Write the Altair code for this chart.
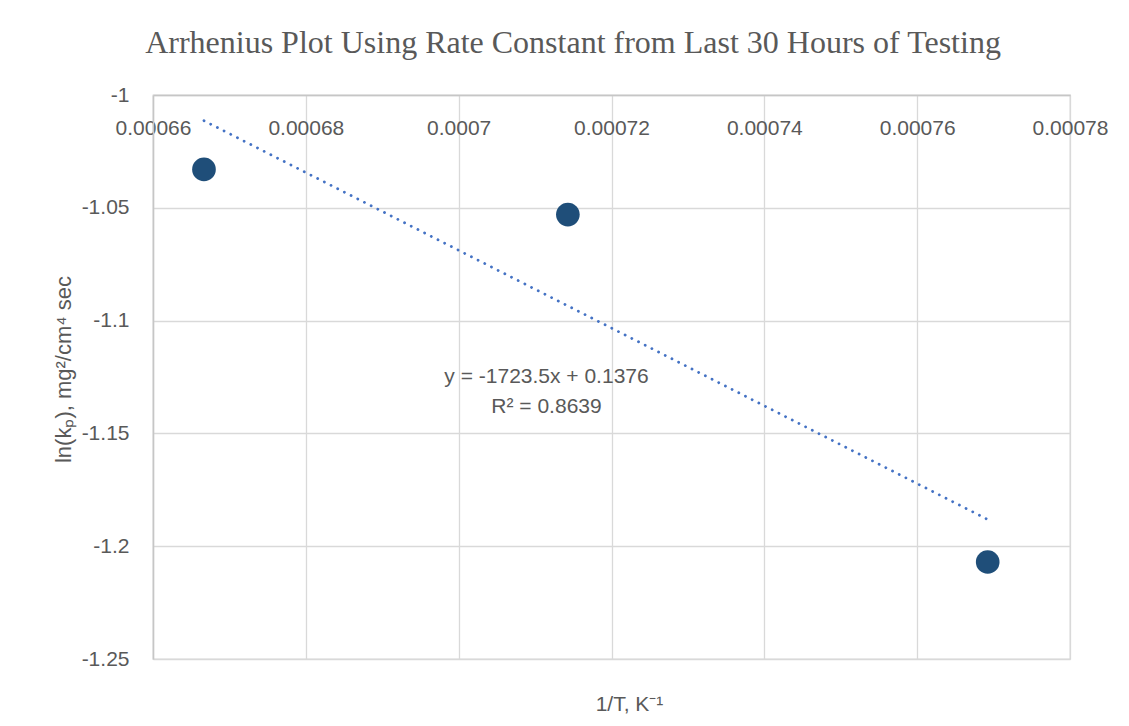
import altair as alt
import pandas as pd

# ---- data ----
inv_T = [0.00066667, 0.00071429, 0.00076923]
ln_kp = [-1.033, -1.053, -1.207]
x_ticks = [0.00066, 0.00068, 0.00070, 0.00072, 0.00074, 0.00076, 0.00078]
y_ticks = [-1.25, -1.2, -1.15, -1.1, -1.05, -1.0]
slope = -1723.5
intercept = 0.1376
r_squared = 0.8639

title_text = "Arrhenius Plot Using Rate Constant from Last 30 Hours of Testing"
x_title = "1/T, K⁻¹"
y_title = "ln(kₚ), mg²/cm⁴ sec"
eq_lines = [f"y = {slope}x + {intercept}", f"R² = {r_squared}"]

W, H = 917, 564
TEXT = "#595959"

pts = pd.DataFrame({"inv_T": inv_T, "ln_kp": ln_kp})
trend = pd.DataFrame({"inv_T": [min(inv_T), max(inv_T)]})

x_enc = alt.X(
    "inv_T:Q",
    scale=alt.Scale(domain=[0.00066, 0.00078], nice=False, zero=False),
    axis=alt.Axis(
        orient="top", values=x_ticks, format=".5~f", ticks=False, tickSize=0,
        labelPadding=-39, labelBaseline="alphabetic", labelFlush=False,
        labelOverlap=False, title=x_title, titleX=476, titleY=615,
        titleAlign="center", titleBaseline="alphabetic", grid=True,
    ),
)
y_enc = alt.Y(
    "ln_kp:Q",
    scale=alt.Scale(domain=[-1.25, -1.0], nice=False, zero=False),
    axis=alt.Axis(
        values=y_ticks, ticks=False, tickSize=0,
        labelExpr="replace(format(datum.value, '.2~f'), '\u2212', '-')",
        labelPadding=24, labelFlush=False, labelOverlap=False,
        title=y_title, titleX=-83, titleY=H / 2 - 8, titleAngle=270,
        titleAlign="center", titleBaseline="alphabetic", titleFontSize=22,
        grid=True,
    ),
)

one = alt.Data(values=[{}])
border_left = alt.Chart(one).mark_rule(color="#D9D9D9", strokeWidth=1.5).encode(
    x=alt.value(-147.5), y=alt.value(-90), y2=alt.value(700)
)
border_top = alt.Chart(one).mark_rule(color="#D9D9D9", strokeWidth=1.5).encode(
    x=alt.value(-148), x2=alt.value(1000), y=alt.value(-90)
)

trend_line = alt.Chart(trend).transform_calculate(
    ln_kp=f"{slope} * datum.inv_T + {intercept}"
).mark_line(
    color="#4472C4", strokeWidth=2.8, strokeDash=[0.1, 7.4], strokeCap="round"
).encode(x=x_enc, y=y_enc)

points = alt.Chart(pts).mark_circle(
    size=560, color="#1F4E79", opacity=1
).encode(x=x_enc, y=y_enc)

eq_text = alt.Chart(one).mark_text(
    text=eq_lines, font="Liberation Sans", fontSize=21, color=TEXT,
    align="center", baseline="alphabetic", lineHeight=30,
).encode(x=alt.value(393.5), y=alt.value(288))

title_mark = alt.Chart(one).mark_text(
    text=title_text, font="Liberation Serif", fontSize=32, color=TEXT,
    align="center", baseline="alphabetic",
).encode(x=alt.value(420), y=alt.value(-42))

chart = alt.layer(
    border_left, border_top, trend_line, points, eq_text, title_mark
).properties(
    width=W, height=H,
    autosize=alt.AutoSizeParams(type="none"),
    padding={"left": 145, "top": 87, "right": 51, "bottom": 59},
).configure_view(stroke="#D9D9D9", strokeWidth=1.3).configure_axis(
    labelFont="Liberation Sans", labelFontSize=21, labelColor=TEXT,
    titleFont="Liberation Sans", titleFontSize=21, titleColor=TEXT,
    titleFontWeight="normal", gridColor="#D9D9D9", gridWidth=1.3,
    domainColor="#C6C6C6", domainWidth=1.5,
)

chart.save("out.html", embed_options={"renderer": "svg", "actions": False})
